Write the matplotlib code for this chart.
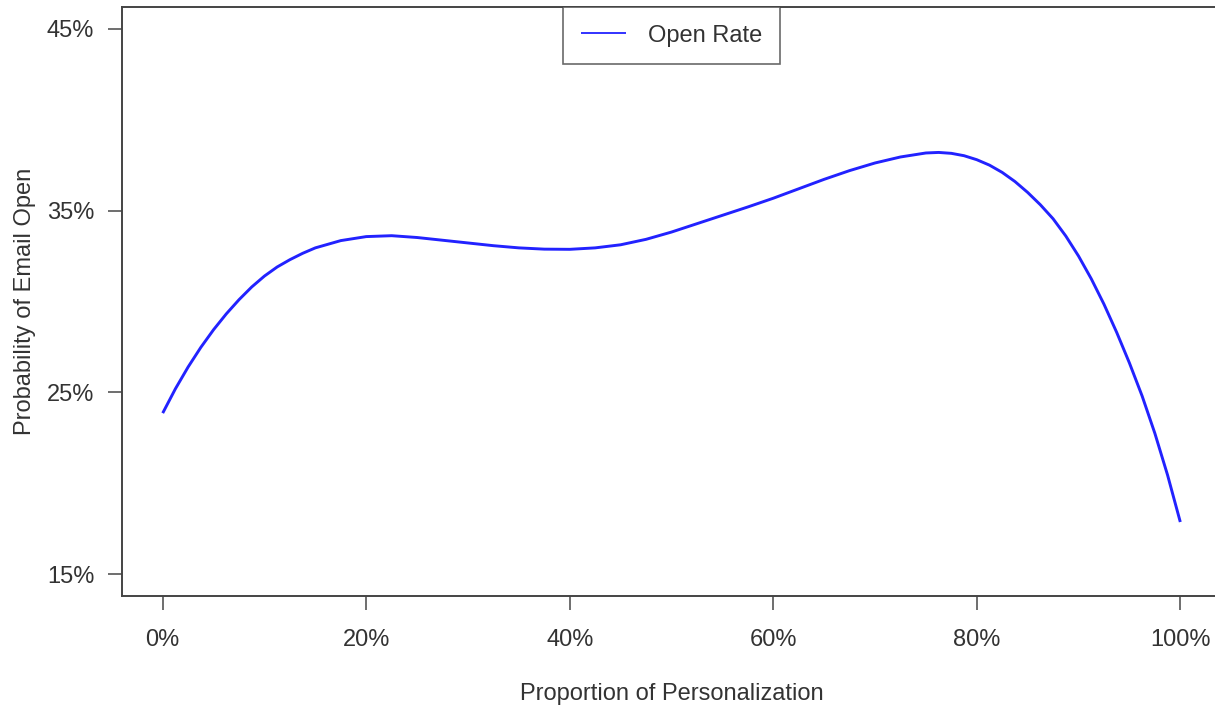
import matplotlib.pyplot as plt

plt.rcParams['font.family'] = ['Liberation Sans', 'DejaVu Sans']

# proportion of personalization (%) and open rate (%)
personalization = [0, 1.25, 2.5, 3.75, 5, 6.25, 7.5, 8.75, 10, 11.25, 12.5,
                   13.75, 15, 17.5, 20, 22.5, 25, 27.5, 30, 32.5, 35, 37.5, 40,
                   42.5, 45, 47.5, 50, 52.5, 55, 57.5, 60, 62.5, 65, 67.5, 70,
                   72.5, 75, 76.25, 77.5, 78.75, 80, 81.25, 82.5, 83.75, 85,
                   86.25, 87.5, 88.75, 90, 91.25, 92.5, 93.75, 95, 96.25, 97.5,
                   98.75, 100]
open_rate = [23.86, 25.2, 26.4, 27.48, 28.45, 29.32, 30.1, 30.8, 31.4, 31.9,
             32.3, 32.65, 32.95, 33.35, 33.57, 33.62, 33.52, 33.37, 33.22,
             33.07, 32.95, 32.88, 32.87, 32.95, 33.12, 33.42, 33.82, 34.28,
             34.74, 35.2, 35.68, 36.2, 36.72, 37.2, 37.62, 37.95, 38.17, 38.2,
             38.15, 38.02, 37.8, 37.5, 37.1, 36.6, 36.0, 35.32, 34.55, 33.6,
             32.5, 31.25, 29.85, 28.3, 26.62, 24.8, 22.75, 20.45, 17.87]

x_ticks = [0, 20, 40, 60, 80, 100]
y_ticks = [15, 25, 35, 45]

txt = '#333333'
fig = plt.figure(figsize=(12.15, 7.07), dpi=100)
ax = fig.add_axes([122 / 1215, 1 - 596 / 707, 1099 / 1215, 589 / 707])

ax.plot(personalization, open_rate, color='#2222ff', lw=2.1,
        solid_joinstyle='round', solid_capstyle='butt', label='Open Rate')

ax.set_xlim(-4, 104)
ax.set_ylim(13.8, 46.2)
ax.set_xticks(x_ticks)
ax.set_xticklabels([f'{v}%' for v in x_ticks])
ax.set_yticks(y_ticks)
ax.set_yticklabels([f'{v}%' for v in y_ticks])

for side in ['left', 'bottom', 'top']:
    ax.spines[side].set_color('#444444')
    ax.spines[side].set_linewidth(1.4)
ax.spines['right'].set_visible(False)

ax.tick_params(axis='both', length=10, width=1.2, color='#555555',
               labelsize=17, labelcolor=txt)
ax.tick_params(axis='x', pad=14)
ax.tick_params(axis='y', pad=10)

ax.set_xlabel('Proportion of Personalization', fontsize=17, color=txt, labelpad=23)
ax.set_ylabel('Probability of Email Open', fontsize=17, color=txt, labelpad=8)

leg = ax.legend(loc='upper center', fontsize=17, frameon=True, fancybox=False,
                borderaxespad=0, borderpad=0.75, handlelength=1.9,
                handletextpad=0.95)
leg.get_frame().set_edgecolor('#444444')
leg.get_frame().set_linewidth(1.2)
leg.get_lines()[0].set_linewidth(1.3)
for t in leg.get_texts():
    t.set_color(txt)

fig.savefig('out.png', dpi=100)
